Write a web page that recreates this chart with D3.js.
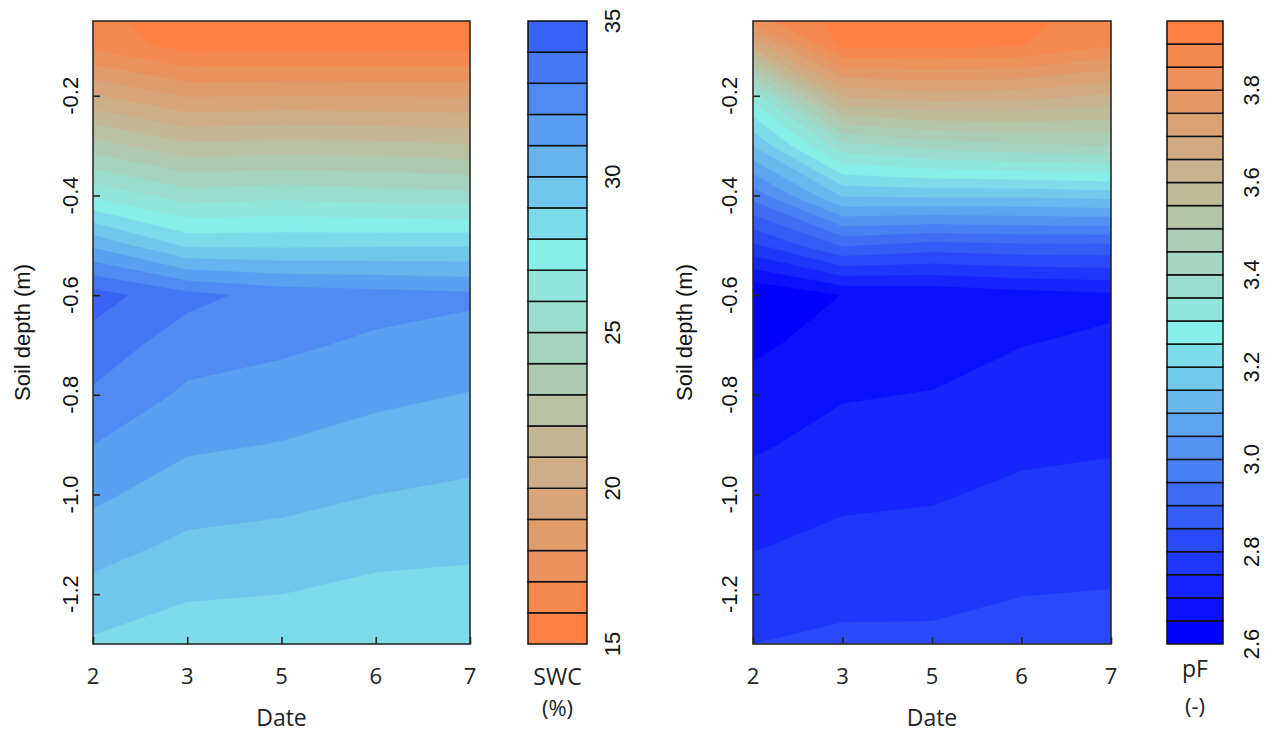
<!DOCTYPE html>
<html><head><meta charset="utf-8">
<script src="https://cdn.jsdelivr.net/npm/d3@7"></script>
<style>body{margin:0;background:#fff}</style>
</head><body>
<svg id="chart" width="1283" height="738" xmlns="http://www.w3.org/2000/svg"></svg>
<script>
// ---------------- data ----------------
const dates = ["2", "3", "5", "6", "7"];
const depths = [-0.05, -0.1, -0.2, -0.3, -0.4, -0.5, -0.6, -0.7, -0.8, -0.9, -1.0, -1.1, -1.2, -1.3];
const depthTicks = [-0.2, -0.4, -0.6, -0.8, -1.0, -1.2];
const depthTickLabels = ["-0.2", "-0.4", "-0.6", "-0.8", "-1.0", "-1.2"];

// Soil water content (%) per date, rows follow `depths`
const swcDate2 = [16.4, 16.7, 20.1, 23.45, 26.8, 30.8, 34.42, 33.6, 32.85, 32.0, 31.2, 30.45, 29.65, 28.85];
const swcDate3 = [15.3, 15.6, 18.9, 22.2, 25.5, 28.8, 33.3, 32.45, 31.82, 31.15, 30.5, 29.8, 29.1, 28.45];
const swcDate5 = [15.0, 15.6, 19.0, 22.4, 25.7, 28.8, 32.63, 32.2, 31.5, 30.96, 30.3, 29.65, 29.0, 28.4];
const swcDate6 = [15.1, 15.65, 18.95, 22.3, 25.5, 28.85, 32.43, 31.8, 31.22, 30.6, 30.0, 29.36, 28.72, 28.1];
const swcDate7 = [15.1, 15.7, 18.9, 22.1, 25.3, 28.9, 32.2, 31.54, 30.96, 30.38, 29.8, 29.23, 28.65, 28.07];
const swcLevels = [15, 16, 17, 18, 19, 20, 21, 22, 23, 24, 25, 26, 27, 28, 29, 30, 31, 32, 33, 34, 35];
const swcTicks = [15, 20, 25, 30, 35];
const swcTickLabels = ["15", "20", "25", "30", "35"];

// pF per date, rows follow `depths`
const pfDate2 = [3.83, 3.665, 3.32, 3.152, 2.97, 2.79, 2.6, 2.641, 2.667, 2.693, 2.72, 2.746, 2.772, 2.80];
const pfDate3 = [3.92, 3.91, 3.655, 3.382, 3.155, 2.905, 2.651, 2.67, 2.696, 2.718, 2.74, 2.763, 2.787, 2.81];
const pfDate5 = [3.93, 3.91, 3.678, 3.42, 3.16, 2.88, 2.66, 2.68, 2.702, 2.723, 2.745, 2.767, 2.788, 2.81];
const pfDate6 = [3.92, 3.90, 3.67, 3.44, 3.16, 2.89, 2.678, 2.699, 2.719, 2.739, 2.76, 2.779, 2.799, 2.818];
const pfDate7 = [3.865, 3.85, 3.64, 3.45, 3.17, 2.89, 2.69, 2.708, 2.727, 2.745, 2.764, 2.783, 2.802, 2.82];
const pfLevels = [2.60, 2.65, 2.70, 2.75, 2.80, 2.85, 2.90, 2.95, 3.00, 3.05, 3.10, 3.15, 3.20, 3.25,
                  3.30, 3.35, 3.40, 3.45, 3.50, 3.55, 3.60, 3.65, 3.70, 3.75, 3.80, 3.85, 3.90, 3.95];
const pfTicks = [2.6, 2.8, 3.0, 3.2, 3.4, 3.6, 3.8];
const pfTickLabels = ["2.6", "2.8", "3.0", "3.2", "3.4", "3.6", "3.8"];

const ORANGE = "#FE8042", CYAN = "#88EEE8", BLUE = "#0000FF";

// ---------------- drawing ----------------
const svg = d3.select("#chart");
svg.append("rect").attr("width", 1283).attr("height", 738).attr("fill", "#fff");
const numFont = "'Liberation Sans', Arial, Helvetica, sans-serif";
const uiFont = "'Open Sans', 'Noto Sans', sans-serif";

function panel(cfg, idx) {
  const nx = dates.length, ny = depths.length;
  const x = d3.scaleLinear().domain([0, nx - 1]).range([cfg.x0, cfg.x1]);
  const y = d3.scaleLinear().domain([-1.3, -0.05]).range([644, 21]);
  const rowDepth = d3.scaleLinear().domain(d3.range(ny)).range(depths);

  const values = [];
  for (let j = 0; j < ny; j++) for (let i = 0; i < nx; i++) values.push(cfg.columns[i][j]);

  const thresholds = cfg.levels.slice(0, -1);
  const contours = d3.contours().size([nx, ny]).thresholds(thresholds)(values);
  const clamp = (v, lo, hi) => Math.max(lo, Math.min(hi, v));
  const proj = d3.geoTransform({
    point(px, py) {
      this.stream.point(x(clamp(px - 0.5, 0, nx - 1)), y(rowDepth(clamp(py - 0.5, 0, ny - 1))));
    }
  });
  const path = d3.geoPath(proj);
  const bandColor = k => cfg.color((cfg.levels[k] + cfg.levels[k + 1]) / 2);

  const clipId = "clip" + idx;
  svg.append("clipPath").attr("id", clipId).append("rect")
    .attr("x", cfg.x0).attr("y", 21).attr("width", cfg.x1 - cfg.x0).attr("height", 623);

  const g = svg.append("g").attr("clip-path", `url(#${clipId})`);
  g.append("rect").attr("x", cfg.x0).attr("y", 21).attr("width", cfg.x1 - cfg.x0).attr("height", 623)
    .attr("fill", bandColor(0));
  g.selectAll("path.band").data(contours).join("path").attr("class", "band")
    .attr("d", path)
    .attr("fill", (d, k) => bandColor(k))
    .attr("stroke", (d, k) => bandColor(k)).attr("stroke-width", 0.4);

  // axes ticks (inward)
  svg.append("g").attr("transform", `translate(${cfg.x0},0)`)
    .call(d3.axisLeft(y).tickValues(depthTicks).tickSize(-7).tickFormat(""))
    .call(a => { a.select(".domain").remove(); a.selectAll("line").attr("stroke", "#222").attr("stroke-width", 1.6); });
  svg.append("g").attr("transform", `translate(0,644)`)
    .call(d3.axisBottom(x).tickValues(d3.range(nx)).tickSize(-7).tickFormat(""))
    .call(a => { a.select(".domain").remove(); a.selectAll("line").attr("stroke", "#222").attr("stroke-width", 1.6); });

  // frame
  svg.append("rect").attr("x", cfg.x0).attr("y", 21).attr("width", cfg.x1 - cfg.x0).attr("height", 623)
    .attr("fill", "none").attr("stroke", "#2a2a2a").attr("stroke-width", 1.6);

  // y tick labels
  svg.append("g").selectAll("text").data(depthTicks).join("text")
    .attr("transform", d => `translate(${cfg.ytl},${y(d)}) rotate(-90)`)
    .attr("text-anchor", "middle").attr("font-family", numFont).attr("font-size", 22).attr("fill", "#111")
    .text((d, i) => depthTickLabels[i]);
  svg.append("text")
    .attr("transform", `translate(${cfg.ytitle},${(21 + 644) / 2}) rotate(-90)`)
    .attr("text-anchor", "middle").attr("font-family", numFont).attr("font-size", 22).attr("fill", "#111")
    .text("Soil depth (m)");

  // x tick labels
  svg.append("g").selectAll("text").data(dates).join("text")
    .attr("x", (d, i) => x(i)).attr("y", 684)
    .attr("text-anchor", "middle").attr("font-family", uiFont).attr("font-size", 22).attr("fill", "#222")
    .text(d => d);
  svg.append("text").attr("x", (cfg.x0 + cfg.x1) / 2).attr("y", 726)
    .attr("text-anchor", "middle").attr("font-family", uiFont).attr("font-size", 23).attr("fill", "#222")
    .text("Date");

  // color bar
  const cy = d3.scaleLinear().domain([cfg.levels[0], cfg.levels[cfg.levels.length - 1]]).range([644, 21]);
  const cb = svg.append("g");
  cb.selectAll("rect").data(d3.range(cfg.levels.length - 1)).join("rect")
    .attr("x", cfg.cb0).attr("width", cfg.cb1 - cfg.cb0)
    .attr("y", k => cy(cfg.levels[k + 1])).attr("height", k => cy(cfg.levels[k]) - cy(cfg.levels[k + 1]))
    .attr("fill", k => bandColor(k))
    .attr("stroke", "#111").attr("stroke-width", 1.5);
  cb.selectAll("text").data(cfg.ticks).join("text")
    .attr("transform", d => `translate(${cfg.cbl},${cy(d)}) rotate(-90)`)
    .attr("text-anchor", "middle").attr("font-family", numFont).attr("font-size", 22).attr("fill", "#111")
    .text((d, i) => cfg.tickLabels[i]);
  const cc = (cfg.cb0 + cfg.cb1) / 2;
  svg.append("text").attr("x", cc).attr("y", cfg.t1y).attr("text-anchor", "middle")
    .attr("font-family", uiFont).attr("font-size", 23).attr("fill", "#222").text(cfg.title1);
  svg.append("text").attr("x", cc).attr("y", cfg.t2y).attr("text-anchor", "middle")
    .attr("font-family", uiFont).attr("font-size", 22).attr("fill", "#222").text(cfg.title2);
}

panel({
  x0: 93, x1: 470, ytl: 78, ytitle: 30,
  columns: [swcDate2, swcDate3, swcDate5, swcDate6, swcDate7],
  levels: swcLevels,
  color: d3.scaleLinear().domain([15.5, 27.5, 39.5]).range([ORANGE, CYAN, BLUE]).interpolate(d3.interpolateRgb),
  cb0: 528, cb1: 587, cbl: 620,
  ticks: swcTicks, tickLabels: swcTickLabels,
  title1: "SWC", title2: "(%)", t1y: 685, t2y: 716
}, 0);

panel({
  x0: 753, x1: 1111, ytl: 737, ytitle: 692,
  columns: [pfDate2, pfDate3, pfDate5, pfDate6, pfDate7],
  levels: pfLevels,
  color: d3.scaleLinear().domain([2.625, 3.275, 3.925]).range([BLUE, CYAN, ORANGE]).interpolate(d3.interpolateRgb),
  cb0: 1167, cb1: 1223, cbl: 1259,
  ticks: pfTicks, tickLabels: pfTickLabels,
  title1: "pF", title2: "(-)", t1y: 677, t2y: 714
}, 1);
</script>
</body></html>
